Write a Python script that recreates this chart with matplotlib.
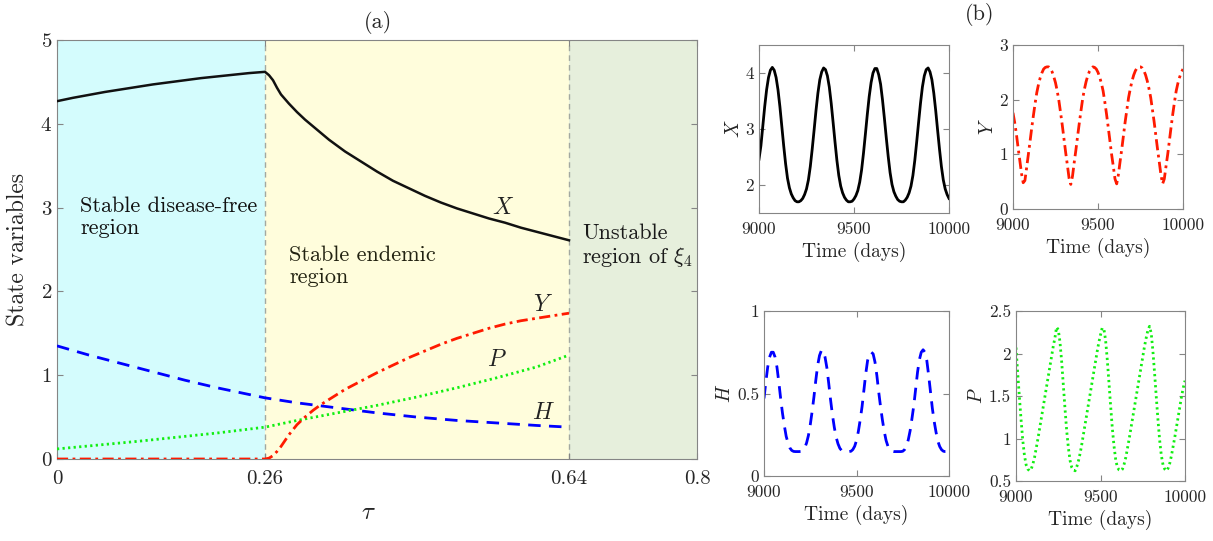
import matplotlib
matplotlib.use("Agg")
import matplotlib.pyplot as plt

plt.rcParams['font.family'] = ['cmr10', 'DejaVu Serif']
plt.rcParams['mathtext.fontset'] = 'cm'
plt.rcParams['axes.formatter.use_mathtext'] = True

# ---------------- data: panel (a) ----------------
tau_X = [0, 0.02, 0.04, 0.06, 0.08, 0.10, 0.12, 0.14, 0.16, 0.18, 0.20, 0.22, 0.24, 0.26,
         0.265, 0.27, 0.275, 0.28, 0.29, 0.30, 0.31, 0.32, 0.33, 0.34, 0.35, 0.36, 0.38,
         0.40, 0.42, 0.44, 0.46, 0.48, 0.50, 0.52, 0.54, 0.56, 0.58, 0.60, 0.62, 0.64]
val_X = [4.27, 4.31, 4.345, 4.38, 4.41, 4.44, 4.47, 4.495, 4.52, 4.545, 4.565, 4.585, 4.605, 4.62,
         4.58, 4.52, 4.43, 4.35, 4.24, 4.14, 4.05, 3.97, 3.89, 3.81, 3.74, 3.67, 3.55,
         3.43, 3.32, 3.23, 3.14, 3.06, 2.99, 2.93, 2.87, 2.82, 2.76, 2.71, 2.66, 2.61]

tau_H = [0, 0.04, 0.08, 0.12, 0.16, 0.20, 0.23, 0.26, 0.30, 0.35, 0.40, 0.45, 0.50, 0.55, 0.60, 0.64]
val_H = [1.35, 1.24, 1.14, 1.04, 0.94, 0.85, 0.79, 0.73, 0.67, 0.61, 0.55, 0.50, 0.46, 0.43, 0.40, 0.38]

tau_P = [0, 0.10, 0.20, 0.26, 0.30, 0.35, 0.40, 0.45, 0.50, 0.55, 0.60, 0.64]
val_P = [0.12, 0.21, 0.31, 0.38, 0.46, 0.55, 0.64, 0.74, 0.85, 0.97, 1.10, 1.24]

tau_Y = [0, 0.26, 0.265, 0.27, 0.275, 0.28, 0.285, 0.29, 0.295, 0.30, 0.31, 0.32, 0.33, 0.34,
         0.35, 0.36, 0.38, 0.40, 0.42, 0.44, 0.46, 0.48, 0.50, 0.52, 0.54, 0.56, 0.58, 0.60, 0.62, 0.64]
val_Y = [0, 0, 0.01, 0.04, 0.09, 0.15, 0.22, 0.29, 0.35, 0.41, 0.50, 0.58, 0.65, 0.71,
         0.77, 0.83, 0.93, 1.03, 1.12, 1.21, 1.29, 1.37, 1.44, 1.50, 1.56, 1.61, 1.65, 1.68, 1.71, 1.74]

tau_bounds = [0, 0.26, 0.64, 0.8]
main_xticklabels = ['0', '0.26', '0.64', '0.8']
region_texts = ['Stable disease-free\nregion', 'Stable endemic\nregion', 'Unstable\nregion of $\\xi_4$']

# ---------------- data: panel (b) ----------------
days = list(range(9000, 10001, 10))
ts_X = [2.46, 2.70, 3.05, 3.40, 3.70, 3.92, 4.05, 4.10, 4.05, 3.92,
        3.70, 3.40, 3.05, 2.70, 2.38, 2.12, 1.95, 1.84, 1.77, 1.72,
        1.70, 1.70, 1.72, 1.76, 1.83, 1.93, 2.09, 2.33, 2.64, 2.98,
        3.33, 3.64, 3.88, 4.02, 4.09, 4.06, 3.95, 3.75, 3.46, 3.12,
        2.77, 2.44, 2.17, 1.98, 1.86, 1.78, 1.73, 1.70, 1.70, 1.71,
        1.75, 1.81, 1.90, 2.05, 2.27, 2.57, 2.91, 3.26, 3.58, 3.83,
        4.00, 4.08, 4.08, 3.97, 3.80, 3.52, 3.19, 2.84, 2.51, 2.22,
        2.01, 1.88, 1.80, 1.74, 1.71, 1.70, 1.70, 1.73, 1.78, 1.86,
        1.98, 2.17, 2.44, 2.77, 3.12, 3.46, 3.75, 3.95, 4.06, 4.09,
        4.02, 3.88, 3.64, 3.33, 2.98, 2.64, 2.33, 2.09, 1.93, 1.83, 1.76]
ts_Y = [1.76, 1.58, 1.37, 1.12, 0.89, 0.65, 0.48, 0.52, 0.75, 0.99,
        1.23, 1.48, 1.71, 1.93, 2.13, 2.28, 2.40, 2.49, 2.56, 2.59,
        2.60, 2.60, 2.57, 2.51, 2.42, 2.31, 2.16, 1.98, 1.76, 1.53,
        1.28, 1.03, 0.80, 0.56, 0.45, 0.60, 0.85, 1.08, 1.33, 1.57,
        1.80, 2.02, 2.19, 2.33, 2.44, 2.52, 2.57, 2.60, 2.59, 2.56,
        2.50, 2.41, 2.30, 2.16, 1.96, 1.74, 1.50, 1.25, 1.00, 0.78,
        0.55, 0.46, 0.63, 0.87, 1.10, 1.35, 1.60, 1.82, 2.04, 2.20,
        2.34, 2.45, 2.53, 2.58, 2.60, 2.60, 2.58, 2.53, 2.45, 2.34,
        2.20, 2.04, 1.82, 1.60, 1.35, 1.10, 0.87, 0.63, 0.46, 0.55,
        0.78, 1.00, 1.25, 1.50, 1.74, 1.96, 2.16, 2.30, 2.41, 2.50, 2.56]
ts_H = [0.47, 0.57, 0.66, 0.72, 0.75, 0.75, 0.72, 0.66, 0.57, 0.47,
        0.38, 0.305, 0.24, 0.20, 0.17, 0.155, 0.149, 0.148, 0.148, 0.148,
        0.149, 0.156, 0.17, 0.20, 0.245, 0.31, 0.39, 0.48, 0.58, 0.67,
        0.73, 0.76, 0.76, 0.72, 0.655, 0.56, 0.46, 0.37, 0.295, 0.235,
        0.195, 0.168, 0.154, 0.149, 0.148, 0.148, 0.148, 0.15, 0.16, 0.18,
        0.215, 0.27, 0.34, 0.42, 0.52, 0.62, 0.70, 0.74, 0.75, 0.74,
        0.69, 0.61, 0.51, 0.42, 0.34, 0.27, 0.215, 0.18, 0.16, 0.15,
        0.148, 0.148, 0.148, 0.148, 0.148, 0.15, 0.16, 0.18, 0.22, 0.275,
        0.35, 0.43, 0.53, 0.63, 0.705, 0.75, 0.765, 0.75, 0.70, 0.61,
        0.51, 0.41, 0.33, 0.265, 0.21, 0.178, 0.159, 0.15, 0.148, 0.148, 0.148]
ts_P = [2.07, 1.77, 1.49, 1.22, 0.98, 0.80, 0.69, 0.64, 0.62, 0.64,
        0.70, 0.78, 0.89, 1.00, 1.12, 1.24, 1.36, 1.48, 1.60, 1.72,
        1.84, 1.96, 2.08, 2.18, 2.31, 2.28, 2.14, 1.91, 1.63, 1.35,
        1.09, 0.89, 0.74, 0.66, 0.63, 0.62, 0.67, 0.74, 0.83, 0.94,
        1.06, 1.18, 1.30, 1.42, 1.54, 1.66, 1.78, 1.90, 2.02, 2.13,
        2.22, 2.30, 2.29, 2.16, 1.93, 1.66, 1.38, 1.12, 0.91, 0.75,
        0.66, 0.63, 0.62, 0.64, 0.70, 0.78, 0.89, 1.00, 1.12, 1.24,
        1.36, 1.48, 1.60, 1.72, 1.84, 1.96, 2.08, 2.18, 2.27, 2.32,
        2.24, 2.03, 1.77, 1.49, 1.22, 0.98, 0.80, 0.69, 0.64, 0.62,
        0.65, 0.71, 0.80, 0.91, 1.02, 1.14, 1.26, 1.38, 1.50, 1.60, 1.68]

time_ticks = [9000, 9500, 10000]

W, H = 1213, 541
fig = plt.figure(figsize=(W / 100, H / 100), dpi=100)

def ax_px(l, t, r, b):
    return fig.add_axes([l / W, 1 - b / H, (r - l) / W, (b - t) / H])

spine_c = '#858585'
txt_c = '#262626'

def style(ax, size):
    for s in ax.spines.values():
        s.set_color(spine_c)
        s.set_linewidth(0.8)
    ax.tick_params(direction='in', length=4, width=0.8, colors=spine_c,
                   labelcolor=txt_c, labelsize=size, top=True, right=True)

# ---------------- panel (a) ----------------
ax = ax_px(57, 40, 697, 459)
fills = ['#d4fcfd', '#fffddc', '#e6efdc']
for i in range(3):
    ax.axvspan(tau_bounds[i], tau_bounds[i + 1], color=fills[i], lw=0, zorder=0)
for xv in tau_bounds[1:3]:
    ax.axvline(xv, color='#a3a8a0', lw=1.0, ls=(0, (4, 3)), zorder=1)

ax.plot(tau_X, val_X, color='#111111', lw=1.8, zorder=3)
ax.plot(tau_H, val_H, color='#0000ff', lw=2.0, ls=(0, (4.5, 3)), zorder=3)
ax.plot(tau_P, val_P, color='#11ee11', lw=2.0, ls=(0, (0.8, 1.2)), zorder=3)
ax.plot(tau_Y, val_Y, color='#ff1a00', lw=2.0, ls=(0, (4, 1.6, 1, 1.6)), zorder=3)

ax.set_xlim(0, 0.8)
ax.set_ylim(0, 5)
ax.set_xticks(tau_bounds)
ax.set_xticklabels(main_xticklabels)
ax.set_yticks([0, 1, 2, 3, 4, 5])
style(ax, 15)
ax.tick_params(axis='x', pad=8)

ax.text(0.0288, 2.88, region_texts[0], fontsize=16, va='center', ha='left', color='#111111', linespacing=1.15)
ax.text(0.29, 2.30, region_texts[1], fontsize=16, va='center', ha='left', color='#222211', linespacing=1.15)
ax.text(0.656, 2.54, region_texts[2], fontsize=16, va='center', ha='left', color='#1a1a1a', linespacing=1.15)

ax.text(0.5575, 3.0, '$X$', fontsize=17, ha='center', va='center', color='#222222')
ax.text(0.6075, 1.84, '$Y$', fontsize=17, ha='center', va='center', color='#222222')
ax.text(0.55, 1.18, '$P$', fontsize=17, ha='center', va='center', color='#222222')
ax.text(0.6075, 0.55, '$H$', fontsize=17, ha='center', va='center', color='#222222')

fig.text(18 / W, 1 - 249 / H, 'State variables', rotation=90, fontsize=17,
         ha='center', va='center', color=txt_c)
fig.text(368 / W, 1 - 513 / H, r'$\tau$', fontsize=18, ha='center', va='center', color=txt_c)
fig.text(378 / W, 1 - 22 / H, '(a)', fontsize=16, ha='center', va='center', color=txt_c)
fig.text(980 / W, 1 - 15 / H, '(b)', fontsize=16, ha='center', va='center', color=txt_c)

# ---------------- panel (b) ----------------
specs = [
    (ax_px(759, 45, 949, 213), ts_X, dict(color='black', ls='-'), (1.5, 4.5), [2, 3, 4], ['2', '3', '4'], '$X$'),
    (ax_px(1013, 45, 1183, 209), ts_Y, dict(color='#ff1a00', ls=(0, (4, 1.6, 1, 1.6))), (0, 3), [0, 1, 2, 3], ['0', '1', '2', '3'], '$Y$'),
    (ax_px(764, 311, 949, 476), ts_H, dict(color='#0000ff', ls=(0, (4.5, 3))), (0, 1), [0, 0.5, 1], ['0', '0.5', '1'], '$H$'),
    (ax_px(1016, 311, 1185, 481), ts_P, dict(color='#11ee11', ls=(0, (0.8, 1.2))), (0.5, 2.5), [0.5, 1, 1.5, 2, 2.5], ['0.5', '1', '1.5', '2', '2.5'], '$P$'),
]
for a, series, st, yl, yt, ytl, lab in specs:
    n = min(len(days), len(series))
    a.plot(days[:n], series[:n], lw=2.0, **st)
    a.set_xlim(9000, 10000)
    a.set_ylim(*yl)
    a.set_xticks(time_ticks)
    a.set_xticklabels([str(t) for t in time_ticks])
    a.set_yticks(yt)
    a.set_yticklabels(ytl)
    style(a, 12.5)
    a.tick_params(axis='x', pad=6)
    a.set_xlabel('Time (days)', fontsize=14, color=txt_c, labelpad=4)
    a.set_ylabel(lab, fontsize=14, color=txt_c, labelpad=2)

fig.savefig('out.png', dpi=100)
